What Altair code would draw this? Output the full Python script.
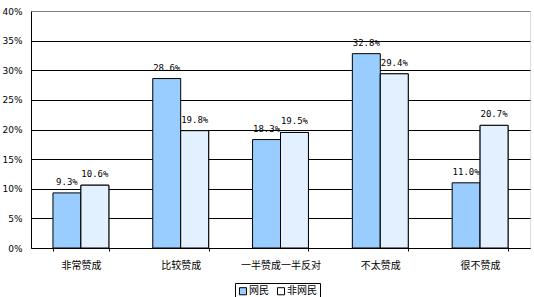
import altair as alt
import pandas as pd

categories = ["非常赞成", "比较赞成", "一半赞成一半反对", "不太赞成", "很不赞成"]
series_names = ["网民", "非网民"]
netizen = [9.3, 28.6, 18.3, 32.8, 11.0]
non_netizen = [10.6, 19.8, 19.5, 29.4, 20.7]
y_ticks = [0, 5, 10, 15, 20, 25, 30, 35, 40]

rows = []
for c, a, b in zip(categories, netizen, non_netizen):
    rows.append({"cat": c, "group": series_names[0], "value": a, "label": f"{a:.1f}%"})
    rows.append({"cat": c, "group": series_names[1], "value": b, "label": f"{b:.1f}%"})
df = pd.DataFrame(rows)

FONT = "Noto Sans CJK SC"

x = alt.X("cat:N", sort=categories, title=None,
          scale=alt.Scale(paddingInner=0.44, paddingOuter=0.22),
          axis=alt.Axis(labelAngle=0, labelFontSize=10, labelFont=FONT, labelColor="black",
                        labelPadding=9, domainColor="black", tickColor="black",
                        tickBand="extent", tickSize=3, grid=False))
xo = alt.XOffset("group:N", sort=series_names, scale=alt.Scale(paddingInner=0, paddingOuter=0))
y = alt.Y("value:Q", title=None,
          scale=alt.Scale(domain=[0, 40], nice=False),
          axis=alt.Axis(values=y_ticks, labelOverlap=False,
                        labelExpr="datum.value + '%'", labelFontSize=9, labelFont="DejaVu Sans",
                        labelColor="black", labelPadding=9, ticks=False,
                        domainColor="black",
                        gridColor={"expr": "datum.value == 40 ? '#808080' : '#000000'"},
                        gridOpacity=1, gridWidth=1))

bars = alt.Chart(df).mark_bar(stroke="black", strokeWidth=1).encode(
    x=x, xOffset=xo, y=y,
    fill=alt.Fill("group:N", sort=series_names,
                  scale=alt.Scale(domain=series_names, range=["#99CCFF", "#FFFFFF"]),
                  legend=alt.Legend(title=None, orient="none", legendX=204, legendY=272,
                                    direction="horizontal", columns=2,
                                    strokeColor="black", padding=3,
                                    symbolType="square", symbolSize=50,
                                    symbolStrokeColor="black", symbolStrokeWidth=1,
                                    labelFont=FONT, labelFontSize=10, labelColor="black",
                                    columnPadding=6, symbolOffset=0, labelOffset=1)),
)

hatch = alt.Chart(df).transform_filter(
    alt.datum.group == series_names[1]
).mark_bar(stroke="black", strokeWidth=1, fill="#E2F0FF").encode(
    x=x, xOffset=xo, y=y,
)

labels = alt.Chart(df).mark_text(dy=-6, fontSize=9, font="DejaVu Sans Mono", color="black",
                                 baseline="bottom").encode(
    x=x, xOffset=xo, y=y, text="label:N")

chart = alt.layer(bars, hatch, labels).properties(
    width=499, height=237,
    padding={"left": 31, "top": 11, "right": 4, "bottom": 49},
    autosize=alt.AutoSizeParams(type="none"),
).configure_view(stroke=None).configure(background="white")

chart.save("out.html", embed_options={"renderer": "svg", "actions": False})
